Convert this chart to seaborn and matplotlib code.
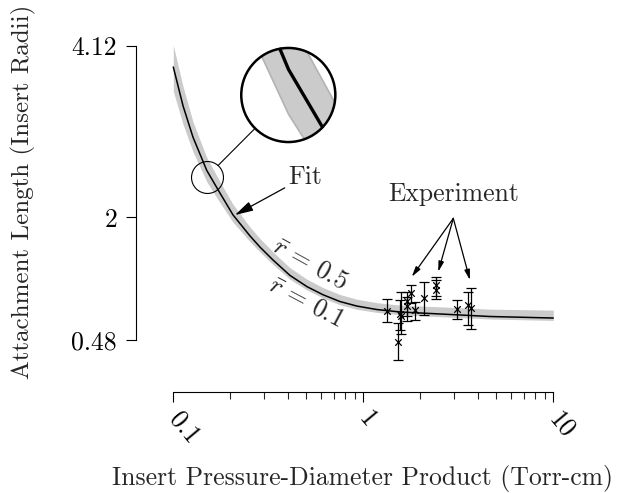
import numpy as np
import matplotlib
matplotlib.use("Agg")
import matplotlib.pyplot as plt
import seaborn as sns
from matplotlib.patches import Circle, ConnectionPatch
from matplotlib.ticker import LogLocator, NullFormatter

# Fit curve and the r-bar band around it
fit_x = [0.100, 0.1125, 0.127, 0.150, 0.176, 0.206, 0.253, 0.286, 0.335, 0.411,
         0.506, 0.614, 0.754, 0.926, 1.18, 1.56, 2.86, 4.64, 10.0]
fit_y = [3.86, 3.38, 2.99, 2.58, 2.30, 2.03, 1.77, 1.63, 1.47, 1.28,
         1.14, 1.04, 0.956, 0.90, 0.857, 0.827, 0.796, 0.771, 0.752]
band_hi = [4.13, 3.62, 3.18, 2.74, 2.44, 2.16, 1.88, 1.735, 1.57, 1.375,
           1.232, 1.128, 1.043, 0.985, 0.942, 0.912, 0.885, 0.862, 0.85]
band_lo = [3.56, 3.15, 2.81, 2.44, 2.18, 1.94, 1.70, 1.57, 1.415, 1.232,
           1.098, 1.00, 0.916, 0.86, 0.822, 0.793, 0.763, 0.74, 0.722]

# Experiment points with error bar ends
exp_x = [1.328, 1.551, 1.570, 1.529, 1.777, 1.705, 1.705, 1.871, 2.095,
         2.399, 2.399, 3.101, 3.544, 3.676]
exp_y = [0.843, 0.796, 0.771, 0.452, 1.062, 0.959, 0.897, 0.848, 0.996,
         1.155, 1.093, 0.860, 0.913, 0.872]
exp_lo = [0.706, 0.604, 0.558, 0.229, 0.938, 0.777, 0.715, 0.731, 0.786,
          0.984, 1.025, 0.736, 0.666, 0.612]
exp_hi = [0.984, 0.975, 1.070, 0.690, 1.164, 1.074, 1.012, 0.947, 1.202,
          1.263, 1.223, 0.975, 1.070, 1.120]

x_ticks = [0.1, 1, 10]
x_tick_labels = ["0.1", "1", "10"]
y_ticks = [0.48, 2, 4.12]
y_tick_labels = ["0.48", "2", "4.12"]

sns.set_style("ticks")
plt.rcParams["font.family"] = "serif"
plt.rcParams["font.serif"] = ["cmr10"]
plt.rcParams["mathtext.fontset"] = "cm"
plt.rcParams["axes.formatter.use_mathtext"] = True

FS = 18.5
band_color = "#cbcbcb"

fig = plt.figure(figsize=(6.21, 4.93), dpi=100)
ax = fig.add_axes([173.3 / 621, 153 / 493, 380 / 621, 294 / 493])

ax.fill_between(fit_x, band_lo, band_hi, color=band_color, lw=0, clip_on=False, zorder=1)
sns.lineplot(x=fit_x, y=fit_y, ax=ax, color="k", lw=1.1, sort=False,
             estimator=None, zorder=2, clip_on=False)

yerr = [np.subtract(exp_y, exp_lo), np.subtract(exp_hi, exp_y)]
eb = ax.errorbar(exp_x, exp_y, yerr=yerr, fmt="none", ecolor="k", elinewidth=0.9,
                 capsize=3.5, capthick=0.9, zorder=3)
for child in eb.get_children():
    child.set_clip_on(False)
sns.scatterplot(x=exp_x, y=exp_y, ax=ax, marker="x", color="k", s=22,
                linewidth=0.9, zorder=4, clip_on=False)

ax.set_xscale("log")
ax.set_xlim(0.1, 10)
ax.set_ylim(0.48, 4.12)
sns.despine(ax=ax, offset={"left": 27, "bottom": 37.5})
for s in ["left", "bottom"]:
    ax.spines[s].set_linewidth(0.8)
    ax.spines[s].set_color("k")

ax.set_xticks(x_ticks, labels=x_tick_labels)
ax.xaxis.set_minor_locator(LogLocator(base=10, subs=np.arange(2, 10)))
ax.xaxis.set_minor_formatter(NullFormatter())
ax.set_yticks(y_ticks, labels=y_tick_labels)
ax.tick_params(axis="both", which="major", direction="out", length=7.5, width=0.8,
               colors="k", labelsize=FS)
ax.tick_params(axis="x", which="minor", direction="out", length=5, width=0.8)
ax.tick_params(axis="x", which="major", pad=9)
ax.tick_params(axis="y", which="major", pad=6)
for lbl in ax.get_xticklabels():
    lbl.set_rotation(-50)
    lbl.set_ha("left")
    lbl.set_va("center")
    lbl.set_rotation_mode("anchor")

ax.set_xlabel("Insert Pressure-Diameter Product (Torr-cm)", fontsize=FS, va="center")
ax.set_ylabel("Attachment Length (Insert Radii)", fontsize=18, va="center")
ax.xaxis.set_label_coords(0.497, -0.47)
ax.yaxis.set_label_coords(-0.395, 0.505)

arrow = dict(arrowstyle="-|>,head_length=0.6,head_width=0.16", color="k", lw=0.9,
             shrinkA=0, shrinkB=0)
ax.annotate("Fit", xy=(0.211, 2.027), xytext=(0.493, 2.50), fontsize=FS,
            ha="center", va="center", arrowprops=arrow)
ax.text(3.0, 2.287, "Experiment", fontsize=FS, ha="center", va="center")
for hx, hy in [(1.80, 1.263), (2.48, 1.325), (3.64, 1.223)]:
    ax.annotate("", xy=(hx, hy), xytext=(2.977, 1.986), arrowprops=arrow)
ax.text(0.524, 1.42, r"$\bar{r}\,=\,0.5$", rotation=-29, fontsize=FS,
        ha="center", va="center", rotation_mode="anchor")
ax.text(0.4995, 0.95, r"$\bar{r}\,=\,0.1$", rotation=-28, fontsize=FS,
        ha="center", va="center", rotation_mode="anchor")

# magnifier
ax.plot([0.150], [2.50], marker="o", ms=23, mfc="none", mec="k", mew=0.8,
        clip_on=False, zorder=5)
ins = fig.add_axes([(288.3 - 48) / 621, (493 - 95 - 48) / 493, 96 / 621, 96 / 493])
ins.set_xscale("log")
ins.fill_between(fit_x, band_lo, band_hi, color=band_color, ec="#b3b3b3", lw=1.2)
ins.plot(fit_x, fit_y, color="k", lw=2.4)
ins.set_xlim(0.1296, 0.1734)
ins.set_ylim(2.35, 2.65)
ins.axis("off")
clip = Circle((0.5, 0.5), 0.5, transform=ins.transAxes)
for art in ins.collections + ins.lines:
    art.set_clip_path(clip)
ins.add_patch(Circle((0.5, 0.5), 0.49, transform=ins.transAxes, fill=False,
                     ec="k", lw=1.8, clip_on=False))
con = ConnectionPatch(xyA=(0.150, 2.50), coordsA=ax.transData, xyB=(0.5, 0.5),
                      coordsB=ins.transAxes, shrinkA=11.5, shrinkB=34.5, lw=0.8, color="k")
fig.add_artist(con)

fig.savefig("out.png", dpi=100)
